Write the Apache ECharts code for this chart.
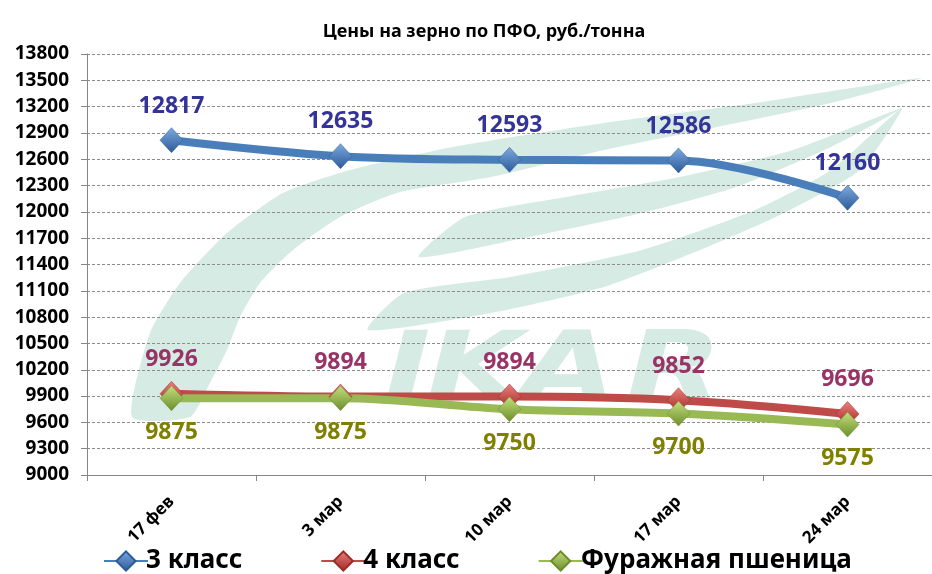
<!DOCTYPE html>
<html>
<head>
<meta charset="utf-8">
<script src="https://cdn.jsdelivr.net/npm/echarts@6/dist/echarts.min.js"></script>
<style>
  html, body { margin: 0; padding: 0; background: #fff; }
  #main { width: 932px; height: 574px; }
</style>
</head>
<body>
<div id="main"></div>
<script>
var dates = ['17 фев', '3 мар', '10 мар', '17 мар', '24 мар'];
var class3 = [12817, 12635, 12593, 12586, 12160];
var class4 = [9926, 9894, 9894, 9852, 9696];
var feedWheat = [9875, 9875, 9750, 9700, 9575];
var yMin = 9000, yMax = 13800, yStep = 300;

var FONT = '"Noto Sans", "DejaVu Sans", sans-serif';
var LOGO = '#d6ebe4';

function diamondFill(top, bottom) {
    return new echarts.graphic.LinearGradient(0, 0, 0, 1, [
        { offset: 0, color: top },
        { offset: 1, color: bottom }
    ]);
}

function makeSeries(name, data, lineColor, top, bottom, labelColor, labelPos) {
    return {
        name: name,
        type: 'line',
        data: data,
        smooth: 0.35,
        symbol: 'diamond',
        symbolSize: [23, 25],
        lineStyle: { color: lineColor, width: 8 },
        itemStyle: { color: diamondFill(top, bottom), borderColor: bottom, borderWidth: 0.5 },
        label: {
            show: true,
            position: labelPos,
            distance: 10,
            color: labelColor,
            fontFamily: FONT,
            fontWeight: 'bold',
            fontSize: 23
        },
        emphasis: { disabled: true }
    };
}

// watermark swooshes (decoration only)
var logo = [
    [[132,417],[150,333],[180,283],[227,233],[283,193],[350,170],[453,147],[604,123],[755,103],[921,78],
     [831,103],[717,127],[604,150],[491,177],[400,192],[340,217],[293,250],[260,283],[240,317],[227,350],[210,383],[190,417]],
    [[419,257],[465,217],[566,197],[680,177],[793,150],[902,108],
     [831,147],[736,187],[642,213],[529,237]],
    [[368,330],[404,293],[510,277],[642,250],[755,210],[831,170],[902,108],
     [860,170],[780,215],[700,250],[604,287],[491,313]]
];
var logoLetters = [['I', 384], ['K', 426], ['A', 520], ['R', 626]];

var graphics = logo.map(function(pts) {
    return { type: 'polygon', z: -10, silent: true, shape: { points: pts, smooth: 0.2 }, style: { fill: LOGO } };
});
logoLetters.forEach(function(l) {
    graphics.push({
        type: 'text', z: -10, silent: true, x: l[1], y: 423, scaleX: 1.3,
        style: { text: l[0], fill: LOGO, font: 'italic bold 96px "DejaVu Sans"', textVerticalAlign: 'bottom' }
    });
});

var myChart = echarts.init(document.getElementById('main'));
myChart.setOption({
    animation: false,
    backgroundColor: '#fff',
    title: {
        text: 'Цены на зерно по ПФО, руб./тонна',
        left: 479,
        textAlign: 'center',
        top: 18,
        textStyle: { fontFamily: FONT, fontWeight: 'bold', fontSize: 18, color: '#000' }
    },
    graphic: graphics,
    grid: { left: 87, top: 54, width: 851, height: 421 },
    legend: {
        left: 98,
        top: 543,
        itemWidth: 44,
        itemHeight: 24,
        itemGap: 78,
        textStyle: { fontFamily: FONT, fontWeight: 'bold', fontSize: 26, color: '#000', padding: [0, 0, 0, -7] },
        data: ['3 класс', '4 класс', 'Фуражная пшеница']
    },
    xAxis: {
        type: 'category',
        data: dates,
        boundaryGap: true,
        axisLine: { lineStyle: { color: '#868686', width: 1 } },
        axisTick: { show: true, length: 6, lineStyle: { color: '#868686' } },
        axisLabel: {
            rotate: 45,
            margin: 24,
            color: '#000',
            fontFamily: FONT,
            fontWeight: 'bold',
            fontSize: 17
        }
    },
    yAxis: {
        type: 'value',
        min: yMin,
        max: yMax,
        interval: yStep,
        axisLine: { show: true, lineStyle: { color: '#868686', width: 1 } },
        axisTick: { show: true, length: 6, lineStyle: { color: '#868686' } },
        axisLabel: {
            margin: 18, color: '#000', fontFamily: FONT, fontWeight: 'bold', fontSize: 19,
            formatter: function(v) { return String(v); }
        },
        splitLine: { show: true, lineStyle: { color: '#8c8c8c', type: [3, 2], width: 1 } }
    },
    series: [
        makeSeries('3 класс', class3, '#4a7ebb', '#7fa9e0', '#2a5a98', '#333399', 'top'),
        makeSeries('4 класс', class4, '#be4b48', '#ec7f7b', '#9e2a27', '#993366', 'top'),
        makeSeries('Фуражная пшеница', feedWheat, '#98b954', '#c3e17e', '#6c8c2a', '#808000', 'bottom')
    ]
});
</script>
</body>
</html>
